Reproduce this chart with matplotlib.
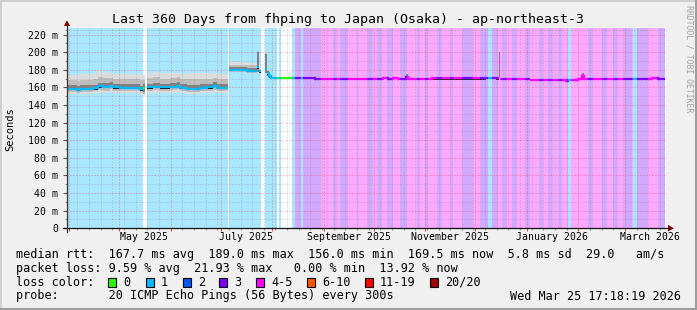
import matplotlib
matplotlib.use("Agg")
import matplotlib.pyplot as plt
from matplotlib.lines import Line2D
from matplotlib.patches import Rectangle, Polygon
from matplotlib.colors import to_rgb
from datetime import datetime

# ---------------- data ----------------
START = datetime(2025, 3, 30, 17, 18, 19)
SPAN_DAYS = 360

title = "Last 360 Days from fhping to Japan (Osaka) - ap-northeast-3"

# loss colour classes (legend order)
loss_labels = ["0", "1", "2", "3", "4-5", "6-10", "11-19", "20/20"]
loss_colors = ["#26ff00", "#00b8ff", "#0059ff", "#7e00ff", "#ff00ff", "#ff5500", "#ff0000", "#a10000"]

# median RTT step segments (days since START) with smoke envelopes (ms)
med_d0 = [0, 6.0, 7.8, 15.6, 18.6, 21.6, 25.8, 27.6, 31.9, 43.9, 45.7,
          47.8, 51.7, 55.9, 61.9, 66.1, 67.9, 72.1, 79.9, 84.1, 87.7, 90.1,
          97.4, 108.2, 114.2, 115.4,
          119.0, 120.2, 121.4,
          122.6, 149.0, 190.0, 193.0, 196.0, 199.0, 204.0, 205.0, 206.0, 219.4,
          252.0, 258.0, 259.4, 260.4, 278.2, 299.7, 301.0, 307.0, 309.6, 310.8,
          351.6, 355.2]
med_d1 = [6.0, 7.8, 15.6, 18.6, 21.6, 25.8, 27.6, 31.9, 43.9, 45.7, 46.9,
          51.7, 55.9, 61.9, 66.1, 67.9, 72.1, 79.9, 84.1, 87.7, 90.1, 96.8,
          108.2, 114.2, 115.4, 116.6,
          120.2, 121.4, 122.6,
          149.0, 190.0, 193.0, 196.0, 199.0, 204.0, 205.0, 206.0, 219.4, 252.0,
          258.0, 259.4, 260.4, 278.2, 299.7, 301.0, 307.0, 309.6, 310.8, 351.6,
          355.2, 359.5]
med_ms = [158.7, 157.6, 158.3, 159.1, 161.3, 160.6, 162.1, 160.2, 159.4, 158.0, 159.4,
          160.2, 161.0, 160.2, 161.0, 162.1, 159.4, 158.7, 159.4, 160.2, 161.7, 159.8,
          180.0, 179.0, 183.0, 178.5,
          181.5, 176.0, 172.5,
          171.2, 170.0, 171.0, 170.0, 171.0, 170.0, 172.0, 170.0, 169.7, 170.6,
          171.2, 170.5, 189.0, 170.2, 168.5, 167.8, 168.5, 170.0, 172.5, 170.0,
          171.0, 170.2]
# outer (light) smoke
smoke_hi = [174.5, 174.0, 175.0, 176.0, 179.5, 178.0, 176.0, 175.0, 175.0, 174.0, 174.0,
            177.0, 178.0, 176.0, 176.0, 177.0, 175.0, 176.0, 177.0, 176.0, 176.0, 175.0,
            189.0, 188.0, 202.0, 182.0,
            200.0, 180.0, 174.0,
            171.8, 170.6, 171.6, 170.6, 171.6, 170.6, 176.0, 170.6, 170.3, 171.2,
            172.0, 171.1, 201.0, 170.8, 169.1, 168.4, 169.1, 170.6, 177.0, 170.6,
            171.6, 170.8]
smoke_lo = [153.0, 152.5, 153.0, 153.5, 154.0, 154.0, 155.0, 154.0, 153.5, 152.0, 150.0,
            153.5, 154.0, 154.0, 154.0, 155.0, 153.5, 153.0, 153.5, 154.0, 155.0, 153.5,
            177.5, 176.5, 177.0, 176.5,
            176.0, 172.0, 171.0,
            170.7, 169.6, 170.6, 169.6, 170.6, 169.6, 170.0, 169.6, 169.3, 170.2,
            170.8, 170.1, 170.0, 169.8, 168.1, 167.4, 168.1, 169.6, 170.0, 169.6,
            170.6, 169.8]
# inner (dark) smoke
smoke_in_hi = [162.7, 161.6, 162.3, 163.1, 165.3, 164.6, 166.1, 164.2, 163.4, 162.0, 163.4,
               164.2, 165.0, 164.2, 165.0, 166.1, 163.4, 162.7, 163.4, 164.2, 165.7, 163.8,
               183.0, 182.0, 200.0, 180.0,
               198.0, 178.5, 173.5,
               171.5, 170.3, 171.3, 170.3, 171.3, 170.3, 175.0, 170.3, 170.0, 170.9,
               171.5, 170.8, 200.0, 170.5, 168.8, 168.1, 168.8, 170.3, 176.5, 170.3,
               171.3, 170.5]
smoke_in_lo = [157.2, 156.1, 156.8, 157.6, 159.8, 159.1, 160.6, 158.7, 157.9, 156.5, 155.0,
               158.7, 159.5, 158.7, 159.5, 160.6, 157.9, 157.2, 157.9, 158.7, 160.2, 158.3,
               178.5, 177.5, 178.0, 177.5,
               177.0, 173.0, 171.5,
               170.9, 169.7, 170.7, 169.7, 170.7, 169.7, 170.3, 169.7, 169.4, 170.3,
               170.9, 170.2, 170.5, 169.9, 168.2, 167.5, 168.2, 169.7, 170.3, 169.7,
               170.7, 169.9]

# packet loss class runs (days since START); gaps = no data
loss_d0 = [0, 45.9, 47.8, 97.4, 119.0, 126.4, 127.4, 128.4, 135.2,
           137.0, 140.6, 141.8, 152.6, 156.2, 156.9, 159.9, 162.3, 164.1, 168.9,
           174.3, 174.9, 180.3, 183.9, 186.3, 189.3, 192.3, 195.9, 200.1, 204.3,
           210.3, 212.1, 215.1, 216.9, 222.4, 225.4, 230.2, 232.0, 237.4, 244.0,
           248.2, 253.0, 255.4, 259.0, 261.4, 264.4, 267.4, 270.4, 275.2, 278.2,
           283.7, 286.1, 289.1, 292.1, 295.1, 297.5, 300.5, 301.1, 302.9, 313.1,
           316.1, 321.5, 324.5, 328.1, 331.1, 334.1, 339.5, 340.1, 342.5, 349.1,
           355.1]
loss_d1 = [45.9, 46.9, 96.8, 116.6, 126.4, 127.4, 128.4, 135.2, 137.0,
           140.6, 141.8, 152.6, 156.2, 156.9, 159.9, 162.3, 164.1, 168.9, 174.3,
           174.9, 180.3, 183.9, 186.3, 189.3, 192.3, 195.9, 200.1, 204.3, 210.3,
           212.1, 215.1, 216.9, 222.4, 225.4, 230.2, 232.0, 237.4, 244.0, 248.2,
           253.0, 255.4, 259.0, 261.4, 264.4, 267.4, 270.4, 275.2, 278.2, 283.7,
           286.1, 289.1, 292.1, 295.1, 297.5, 300.5, 301.1, 302.9, 313.1, 316.1,
           321.5, 324.5, 328.1, 331.1, 334.1, 339.5, 340.1, 342.5, 349.1, 355.1,
           359.5]
loss_cls = [1, 0, 1, 1, 1, 0, 1, 0, 1,
            3, 1, 3, 4, 3, 4, 3, 4, 3, 4,
            3, 4, 3, 4, 3, 4, 3, 4, 3, 4,
            3, 4, 3, 4, 3, 4, 3, 4, 3, 4,
            3, 1, 3, 4, 3, 4, 3, 4, 3, 4,
            3, 4, 3, 4, 3, 4, 3, 1, 4, 3,
            4, 3, 4, 3, 4, 3, 4, 1, 3, 4,
            3]

x_label_months = [(2025, 5, "May 2025"), (2025, 7, "July 2025"), (2025, 9, "September 2025"),
                  (2025, 11, "November 2025"), (2026, 1, "January 2026"), (2026, 3, "March 2026")]
y_ticks = [0, 20, 40, 60, 80, 100, 120, 140, 160, 180, 200, 220]

legend_rows = [
    "median rtt:  167.7 ms avg  189.0 ms max  156.0 ms min  169.5 ms now  5.8 ms sd  29.0   am/s",
    "packet loss: 9.59 % avg  21.93 % max   0.00 % min  13.92 % now",
    "loss color:",
    "probe:       20 ICMP Echo Pings (56 Bytes) every 300s",
]
stamp = "Wed Mar 25 17:18:19 2026"

# ---------------- figure ----------------
W, H = 697, 310
MONO = "DejaVu Sans Mono"
fig = plt.figure(figsize=(W / 100, H / 100), dpi=100, facecolor="#f0f0f0")

def fx(px):
    return px / W

def fy(py):
    return 1 - py / H

ax_l, ax_r, ax_t, ax_b = 67, 666, 28, 228.3
ax = fig.add_axes([fx(ax_l), fy(ax_b), (ax_r - ax_l) / W, (ax_b - ax_t) / H])
ax.set_facecolor("white")
ax.set_xlim(0, SPAN_DAYS)
ax.set_ylim(0, 227.6)
for s in ax.spines.values():
    s.set_visible(False)

def day_of(dt):
    return (dt - START).total_seconds() / 86400.0

def light(c, a=0.34):
    r, g, b = to_rgb(c)
    return (1 - a + a * r, 1 - a + a * g, 1 - a + a * b)

# background loss colouring
for d0, d1, c in zip(loss_d0, loss_d1, loss_cls):
    if c > 0:
        ax.axvspan(d0, d1, color=light(loss_colors[c]), lw=0, zorder=1)

# smoke: outer, intermediate, inner, core
for d0, d1, m, hi, lo, ihi, ilo in zip(med_d0, med_d1, med_ms, smoke_hi, smoke_lo,
                                        smoke_in_hi, smoke_in_lo):
    w = d1 - d0
    ax.bar(d0, hi - lo, bottom=lo, width=w, align="edge", color="#dcdcdc", lw=0, zorder=2)
    mhi, mlo = (hi + ihi) / 2, (lo + ilo) / 2
    ax.bar(d0, mhi - mlo, bottom=mlo, width=w, align="edge", color="#bdbdbd", lw=0, zorder=2)
    ax.bar(d0, ihi - ilo, bottom=ilo, width=w, align="edge", color="#808080", lw=0, zorder=2)
    ax.bar(d0, 1.6, bottom=m - 1.6, width=w, align="edge", color="#1a1a1a", lw=0, zorder=2)

# median line coloured by loss class
prev = None
LW = 1.6
for d0, d1, m in zip(med_d0, med_d1, med_ms):
    for r0, r1, c in zip(loss_d0, loss_d1, loss_cls):
        a, b = max(d0, r0), min(d1, r1)
        if b > a:
            col = loss_colors[c]
            ax.plot([a, b], [m, m], color=col, lw=LW, solid_capstyle="butt", zorder=4)
            if (prev is not None and abs(prev[0] - a) < 1e-6 and prev[2] == c
                    and 0 < abs(prev[1] - m) < 4):
                ax.plot([a, a], [prev[1], m], color=col, lw=LW, zorder=4)
            prev = (b, m, c)

# grid (drawn on top like rrdtool)
month_days = []
for y in (2025, 2026):
    for mth in range(1, 13):
        d = day_of(datetime(y, mth, 1))
        if 0 < d < SPAN_DAYS:
            month_days.append(d)
week_days = []
d = day_of(datetime(2025, 4, 6))
while d < SPAN_DAYS:
    if all(abs(d - md) > 0.5 for md in month_days):
        week_days.append(d)
    d += 7
ax.set_xticks(month_days)
ax.set_xticks(week_days, minor=True)
ax.set_yticks(y_ticks)
ax.set_yticks([v + 10 for v in y_ticks[:-1]] + [225], minor=True)
ax.set_xticklabels([])
ax.set_yticklabels([f"{v} m" if v else "0" for v in y_ticks], family=MONO, fontsize=7.1)
ax.tick_params(axis="y", which="major", length=3, width=0.8, color="#555555", pad=3.5)
ax.tick_params(axis="y", which="minor", length=1.5, width=0.8, color="#999999")
ax.tick_params(axis="x", which="major", length=2.5, width=0.8, color="#de5050", direction="out")
ax.tick_params(axis="x", which="minor", length=1.5, width=0.8, color="#999999", direction="out")
ax.grid(which="minor", color="#8f8f8f", alpha=0.5, lw=0.72, ls=(0, (1, 2)), zorder=5)
ax.grid(which="major", color="#de5050", alpha=0.6, lw=0.72, ls=(0, (1, 2)), zorder=5)
ax.set_axisbelow(False)

# x labels centred in their months
for yy, mm, lab in x_label_months:
    ax.text(day_of(datetime(yy, mm, 16)), -0.045, lab, transform=ax.get_xaxis_transform(),
            ha="center", va="center", family=MONO, fontsize=7.1)

# axes lines and arrows
fig.add_artist(Line2D([fx(63), fx(668)], [fy(ax_b), fy(ax_b)], color="#111111", lw=0.9))
fig.add_artist(Line2D([fx(ax_l), fx(ax_l)], [fy(232), fy(26)], color="#333333", lw=0.9))
fig.add_artist(Polygon([[fx(668), fy(225)], [fx(668), fy(231.5)], [fx(674), fy(228.3)]],
                       closed=True, color="#7f0000", lw=0))
fig.add_artist(Polygon([[fx(63.8), fy(26)], [fx(70.2), fy(26)], [fx(67), fy(20.5)]],
                       closed=True, color="#7f0000", lw=0))

# titles
fig.text(fx(347.5), fy(19), title, ha="center", va="center", family=MONO, fontsize=9.5)
fig.text(fx(10), fy(129), "Seconds", rotation=90, ha="center", va="center", family=MONO, fontsize=7.5)
fig.text(fx(689), fy(59), "RRDTOOL / TOBI OETIKER", rotation=270, ha="center", va="center",
         family=MONO, fontsize=5.9, color="#a0a0a0")

# legend
row_y = [254.3, 268.3, 282.3, 296.0]
for t, yy in zip(legend_rows, row_y):
    fig.text(fx(16), fy(yy), t, ha="left", va="center", family=MONO, fontsize=8.5)
fig.text(fx(681), fy(296.0), stamp, ha="right", va="center", family=MONO, fontsize=8.5)
box_x = [108, 146, 183, 219, 256, 307, 365, 430]
for bx, lab, col in zip(box_x, loss_labels, loss_colors):
    fig.add_artist(Rectangle((fx(bx), fy(286.7)), 8.4 / W, 8.4 / H, facecolor=col,
                             edgecolor="black", lw=0.8))
    fig.text(fx(bx + 15), fy(282.3), lab, ha="left", va="center", family=MONO, fontsize=8.5)

# frame shading
fig.add_artist(Line2D([0, 1], [fy(0.5), fy(0.5)], color="#cfcfcf", lw=1.4))
fig.add_artist(Line2D([fx(0.5), fx(0.5)], [0, 1], color="#cfcfcf", lw=1.4))
fig.add_artist(Line2D([0, 1], [fy(H - 1), fy(H - 1)], color="#9e9e9e", lw=2.2))
fig.add_artist(Line2D([fx(W - 1), fx(W - 1)], [0, 1], color="#9e9e9e", lw=2.2))

fig.savefig("out.png", dpi=100, facecolor=fig.get_facecolor())
